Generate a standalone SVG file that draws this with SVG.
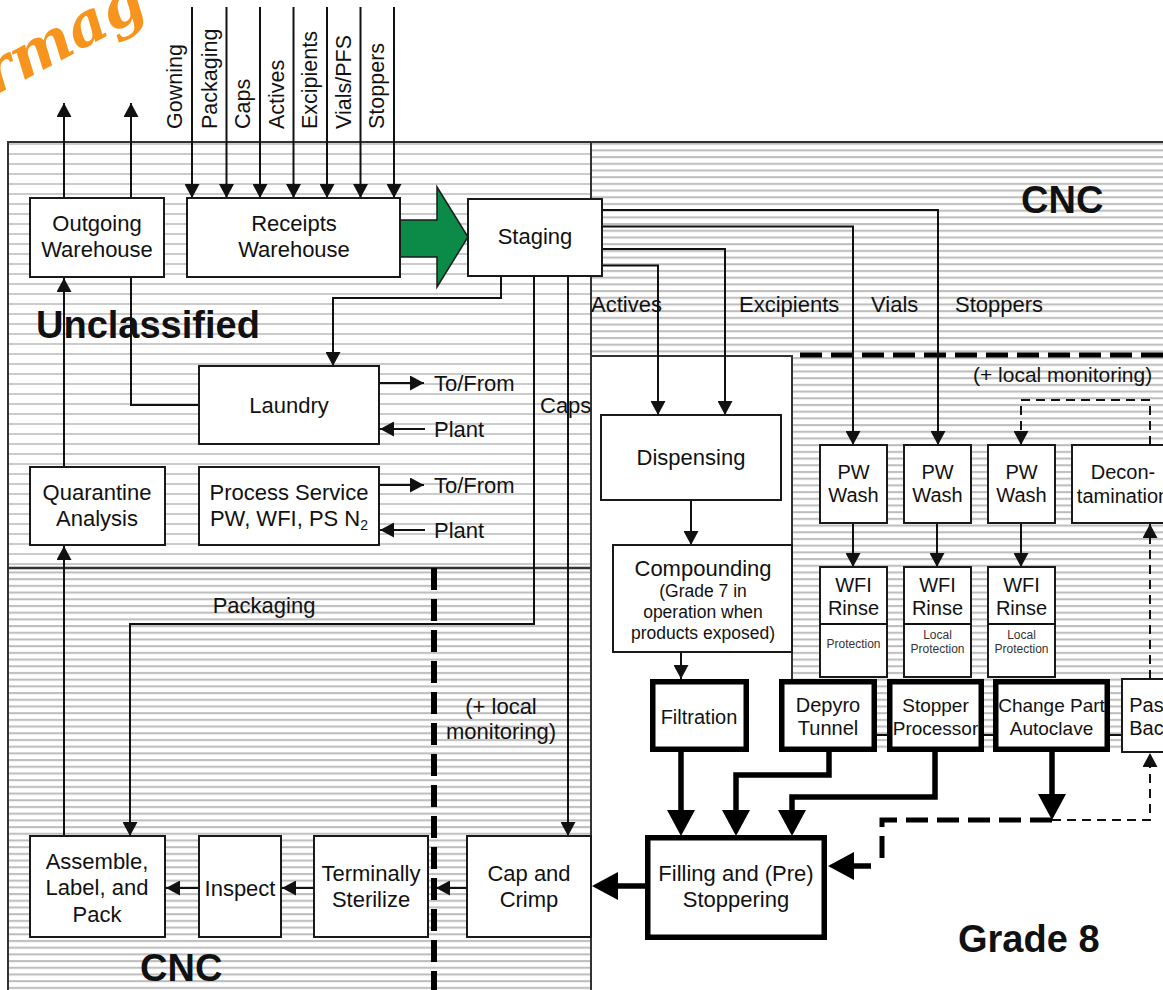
<svg xmlns="http://www.w3.org/2000/svg" width="1163" height="990" viewBox="0 0 1163 990">
<defs>
<pattern id="pU" width="20" height="10" patternUnits="userSpaceOnUse"><rect width="20" height="10" fill="#fff"/><rect y="3" width="20" height="2" fill="#cbcbcb"/></pattern>
<pattern id="pC" width="20" height="6.7" patternUnits="userSpaceOnUse"><rect width="20" height="6.7" fill="#fff"/><rect y="2" width="20" height="2" fill="#bcbcbc"/></pattern>
<marker id="ah" viewBox="0 0 14 15" refX="14" refY="7.5" markerWidth="14" markerHeight="15" markerUnits="userSpaceOnUse" orient="auto"><path d="M0,0 L14,7.5 L0,15 z" fill="#111"/></marker>
<marker id="AH" viewBox="0 0 26 28" refX="18" refY="14" markerWidth="26" markerHeight="28" markerUnits="userSpaceOnUse" orient="auto"><path d="M0,0 L26,14 L0,28 z" fill="#000"/></marker>
<style>
.b{fill:#fff;stroke:#1a1a1a;stroke-width:2}
.bk{fill:#fff;stroke:#000;stroke-width:5.5}
.c{fill:none;stroke:#111;stroke-width:2}
.ck{fill:none;stroke:#000;stroke-width:5.5}
.cd{fill:none;stroke:#111;stroke-width:2;stroke-dasharray:9 6}
.r{fill:none;stroke:#333;stroke-width:2}
.t{font-family:"Liberation Sans",Arial,Helvetica,sans-serif;font-size:22px;fill:#111;text-anchor:middle}
.s{font-size:20px}
.n{font-size:19px}
.m{font-size:17.5px}
.p{font-size:12px;fill:#333}
.l{text-anchor:start}
.h{font-weight:bold;font-size:38px;text-anchor:start;fill:#111}
</style>
</defs>

<g id="regions">
<rect x="0" y="0" width="1163" height="990" fill="#fff"/>
<rect x="8" y="142" width="583" height="426" fill="url(#pU)"/>
<rect x="591" y="142" width="572" height="214" fill="url(#pC)"/>
<rect x="8" y="568" width="583" height="422" fill="url(#pC)"/>
<rect x="792" y="356" width="371" height="396" fill="url(#pC)"/>
<path class="r" d="M8,990 V142 H1163"/>
<path class="r" d="M591,142 V990"/>
<path class="r" d="M8,568 H591" style="stroke-width:2.5"/>
<path class="r" d="M591,356 H792 V679"/>
<path d="M800,355 H1163" fill="none" stroke="#000" stroke-width="5" stroke-dasharray="22 9"/>
<text class="t h" x="36" y="338">Unclassified</text>
<text class="t h" x="1021" y="213">CNC</text>
<text class="t h" x="140" y="981">CNC</text>
<text class="t h" x="958" y="952">Grade 8</text>
<text x="-6" y="96" transform="rotate(-28 -6 96)" font-family="DejaVu Serif" font-style="italic" font-weight="bold" font-size="60" fill="#F7941D">rmag</text>
</g>

<g id="connectors">
<path class="c" marker-end="url(#ah)" d="M192,7 V198"/>
<path class="c" marker-end="url(#ah)" d="M226.5,7 V198"/>
<path class="c" marker-end="url(#ah)" d="M260,7 V198"/>
<path class="c" marker-end="url(#ah)" d="M293.5,7 V198"/>
<path class="c" marker-end="url(#ah)" d="M327,7 V198"/>
<path class="c" marker-end="url(#ah)" d="M360.5,7 V198"/>
<path class="c" marker-end="url(#ah)" d="M394,7 V198"/>
<path class="c" marker-end="url(#ah)" d="M64,198 V103"/>
<path class="c" marker-end="url(#ah)" d="M131,198 V103"/>
<path class="c" marker-end="url(#ah)" d="M64,467 V278"/>
<path class="c" marker-end="url(#ah)" d="M64,836 V546"/>
<path class="c" d="M199,405 H131 V277"/>
<path class="c" marker-end="url(#ah)" d="M501,276 V298 H333 V366"/>
<path class="c" marker-end="url(#ah)" d="M534,276 V624 H130 V836"/>
<path class="c" marker-end="url(#ah)" d="M568,276 V836"/>
<path class="c" marker-end="url(#ah)" d="M602,265.5 H658 V415"/>
<path class="c" marker-end="url(#ah)" d="M602,249 H725 V415"/>
<path class="c" marker-end="url(#ah)" d="M602,226.5 H853 V445"/>
<path class="c" marker-end="url(#ah)" d="M602,210 H938 V445"/>
<path class="c" marker-end="url(#ah)" d="M379,383 H424"/>
<path class="c" marker-end="url(#ah)" d="M425,429 H380"/>
<path class="c" marker-end="url(#ah)" d="M379,485 H424"/>
<path class="c" marker-end="url(#ah)" d="M425,530 H380"/>
<path class="c" marker-end="url(#ah)" d="M691,500 V545"/>
<path class="c" marker-end="url(#ah)" d="M681,652 V679"/>
<path class="c" marker-end="url(#ah)" d="M853,523 V567"/>
<path class="c" marker-end="url(#ah)" d="M937,523 V567"/>
<path class="c" marker-end="url(#ah)" d="M1021,523 V567"/>
<path class="c" marker-end="url(#ah)" d="M853,624 V678"/>
<path class="c" marker-end="url(#ah)" d="M937,624 V678"/>
<path class="c" marker-end="url(#ah)" d="M1021,624 V678"/>
<path class="c" marker-end="url(#ah)" d="M467,888 H436"/>
<path class="c" marker-end="url(#ah)" d="M314,888 H282"/>
<path class="c" marker-end="url(#ah)" d="M199,888 H166"/>
<path class="c" d="M877,735 H888 M984,735 H994 M1110,735 H1122"/>
<path class="ck" marker-end="url(#AH)" d="M681,752 V828"/>
<path class="ck" marker-end="url(#AH)" d="M829,752 V775 H736 V828"/>
<path class="ck" marker-end="url(#AH)" d="M935,752 V797 H792 V828"/>
<path class="ck" marker-end="url(#AH)" d="M1052,752 V812"/>
<path class="ck" marker-end="url(#AH)" d="M645,886 H600"/>
<path class="ck" marker-end="url(#AH)" d="M871,866 H836"/>
<path d="M1052,820 H882 V866" fill="none" stroke="#000" stroke-width="5" stroke-dasharray="22 9"/>
<path class="cd" marker-end="url(#ah)" d="M1052,820 H1150 V753"/>
<path class="cd" marker-end="url(#ah)" d="M1150,679 V524"/>
<path class="cd" marker-end="url(#ah)" d="M1150,445 V400 H1021 V445"/>
<path d="M434,568 V990" fill="none" stroke="#000" stroke-width="6" stroke-dasharray="22 9"/>
</g>

<g id="flow-labels">
<text class="t l" transform="translate(182,129) rotate(-90)" style="font-size:21.5px">Gowning</text>
<text class="t l" transform="translate(216.5,129) rotate(-90)" style="font-size:21.5px">Packaging</text>
<text class="t l" transform="translate(250,129) rotate(-90)" style="font-size:21.5px">Caps</text>
<text class="t l" transform="translate(283.5,129) rotate(-90)" style="font-size:21.5px">Actives</text>
<text class="t l" transform="translate(317,129) rotate(-90)" style="font-size:21.5px">Excipients</text>
<text class="t l" transform="translate(350.5,129) rotate(-90)" style="font-size:21.5px">Vials/PFS</text>
<text class="t l" transform="translate(384,129) rotate(-90)" style="font-size:21.5px">Stoppers</text>
<text class="t l" x="591" y="312">Actives</text>
<text class="t l" x="739" y="312">Excipients</text>
<text class="t l" x="871" y="312">Vials</text>
<text class="t l" x="955" y="312">Stoppers</text>
<text class="t l" x="540" y="413">Caps</text>
<text class="t" x="264" y="613">Packaging</text>
<text class="t l" x="434" y="391">To/From</text>
<text class="t l" x="434" y="437">Plant</text>
<text class="t l" x="434" y="493">To/From</text>
<text class="t l" x="434" y="538">Plant</text>
<text class="t l" x="973" y="382" style="font-size:21px">(+ local monitoring)</text>
<text class="t" x="501" y="714">(+ local</text>
<text class="t" x="501" y="739">monitoring)</text>
</g>

<g id="arrow-receipts-staging">
<path d="M400,220 H437 V187 L468,237 L437,287 V257 H400 Z" fill="#0B8A48" stroke="#1b1b1b" stroke-width="1.5"/>
</g>

<g id="n-outgoing"><rect class="b" x="30" y="198" width="134" height="79"/><text class="t" x="97" y="231">Outgoing</text><text class="t" x="97" y="257">Warehouse</text></g>
<g id="n-receipts"><rect class="b" x="187" y="198" width="213" height="79"/><text class="t" x="294" y="231">Receipts</text><text class="t" x="294" y="257">Warehouse</text></g>
<g id="n-staging"><rect class="b" x="468" y="199" width="134" height="77"/><text class="t" x="535" y="244">Staging</text></g>
<g id="n-laundry"><rect class="b" x="199" y="366" width="180" height="78"/><text class="t" x="289" y="413">Laundry</text></g>
<g id="n-quarantine"><rect class="b" x="30" y="467" width="135" height="78"/><text class="t" x="97" y="500">Quarantine</text><text class="t" x="97" y="526">Analysis</text></g>
<g id="n-process"><rect class="b" x="199" y="467" width="180" height="78"/><text class="t" x="289" y="500">Process Service</text><text class="t" x="289" y="526">PW, WFI, PS N<tspan style="font-size:14px" dy="4">2</tspan></text></g>
<g id="n-assemble"><rect class="b" x="30" y="836" width="135" height="101"/><text class="t" x="97" y="869">Assemble,</text><text class="t" x="97" y="895">Label, and</text><text class="t" x="97" y="922">Pack</text></g>
<g id="n-inspect"><rect class="b" x="199" y="836" width="82" height="101"/><text class="t" x="240" y="896">Inspect</text></g>
<g id="n-terminally"><rect class="b" x="314" y="836" width="114" height="101"/><text class="t" x="371" y="881">Terminally</text><text class="t" x="371" y="907">Sterilize</text></g>
<g id="n-cap"><rect class="b" x="467" y="836" width="124" height="101"/><text class="t" x="529" y="881">Cap and</text><text class="t" x="529" y="907">Crimp</text></g>
<g id="n-dispensing"><rect class="b" x="601" y="415" width="180" height="85"/><text class="t" x="691" y="465">Dispensing</text></g>
<g id="n-compounding"><rect class="b" x="613" y="545" width="179" height="107"/><text class="t" x="703" y="576">Compounding</text><text class="t m" x="703" y="597">(Grade 7 in</text><text class="t m" x="703" y="618">operation when</text><text class="t m" x="703" y="639">products exposed)</text></g>
<g id="n-pw1"><rect class="b" x="820" y="445" width="67" height="78"/><text class="t s" x="853.5" y="479">PW</text><text class="t s" x="853.5" y="502">Wash</text></g>
<g id="n-pw2"><rect class="b" x="904" y="445" width="67" height="78"/><text class="t s" x="937.5" y="479">PW</text><text class="t s" x="937.5" y="502">Wash</text></g>
<g id="n-pw3"><rect class="b" x="988" y="445" width="67" height="78"/><text class="t s" x="1021.5" y="479">PW</text><text class="t s" x="1021.5" y="502">Wash</text></g>
<g id="n-decon"><rect class="b" x="1072" y="445" width="110" height="78"/><text class="t s" x="1123" y="479">Decon-</text><text class="t s" x="1123" y="503">tamination</text></g>
<g id="n-wfi1"><rect class="b" x="820" y="567" width="67" height="110"/><path class="c" d="M820,624 H887"/><text class="t s" x="853.5" y="592">WFI</text><text class="t s" x="853.5" y="615">Rinse</text><text class="t p" x="853.5" y="648">Protection</text></g>
<g id="n-wfi2"><rect class="b" x="904" y="567" width="67" height="110"/><path class="c" d="M904,624 H971"/><text class="t s" x="937.5" y="592">WFI</text><text class="t s" x="937.5" y="615">Rinse</text><text class="t p" x="937.5" y="639">Local</text><text class="t p" x="937.5" y="653">Protection</text></g>
<g id="n-wfi3"><rect class="b" x="988" y="567" width="67" height="110"/><path class="c" d="M988,624 H1055"/><text class="t s" x="1021.5" y="592">WFI</text><text class="t s" x="1021.5" y="615">Rinse</text><text class="t p" x="1021.5" y="639">Local</text><text class="t p" x="1021.5" y="653">Protection</text></g>
<g id="n-filtration"><rect class="bk" x="652.75" y="681.75" width="93.5" height="67.5"/><text class="t s" x="699" y="724">Filtration</text></g>
<g id="n-depyro"><rect class="bk" x="781.75" y="681.75" width="92.5" height="67.5"/><text class="t s" x="828" y="712">Depyro</text><text class="t s" x="828" y="735">Tunnel</text></g>
<g id="n-stopper"><rect class="bk" x="889.75" y="681.75" width="91.5" height="67.5"/><text class="t n" x="935.5" y="712">Stopper</text><text class="t n" x="935.5" y="735">Processor</text></g>
<g id="n-changepart"><rect class="bk" x="995.75" y="681.75" width="111.5" height="67.5"/><text class="t n" x="1051.5" y="712">Change Part</text><text class="t n" x="1051.5" y="735">Autoclave</text></g>
<g id="n-passback"><rect class="b" x="1122" y="679" width="60" height="73"/><text class="t s" x="1151.5" y="712">Pass</text><text class="t s" x="1151.5" y="735">Back</text></g>
<g id="n-filling"><rect class="bk" x="647.75" y="837.75" width="176.5" height="99.5"/><text class="t" x="736" y="881">Filling and (Pre)</text><text class="t" x="736" y="907">Stoppering</text></g>
</svg>
